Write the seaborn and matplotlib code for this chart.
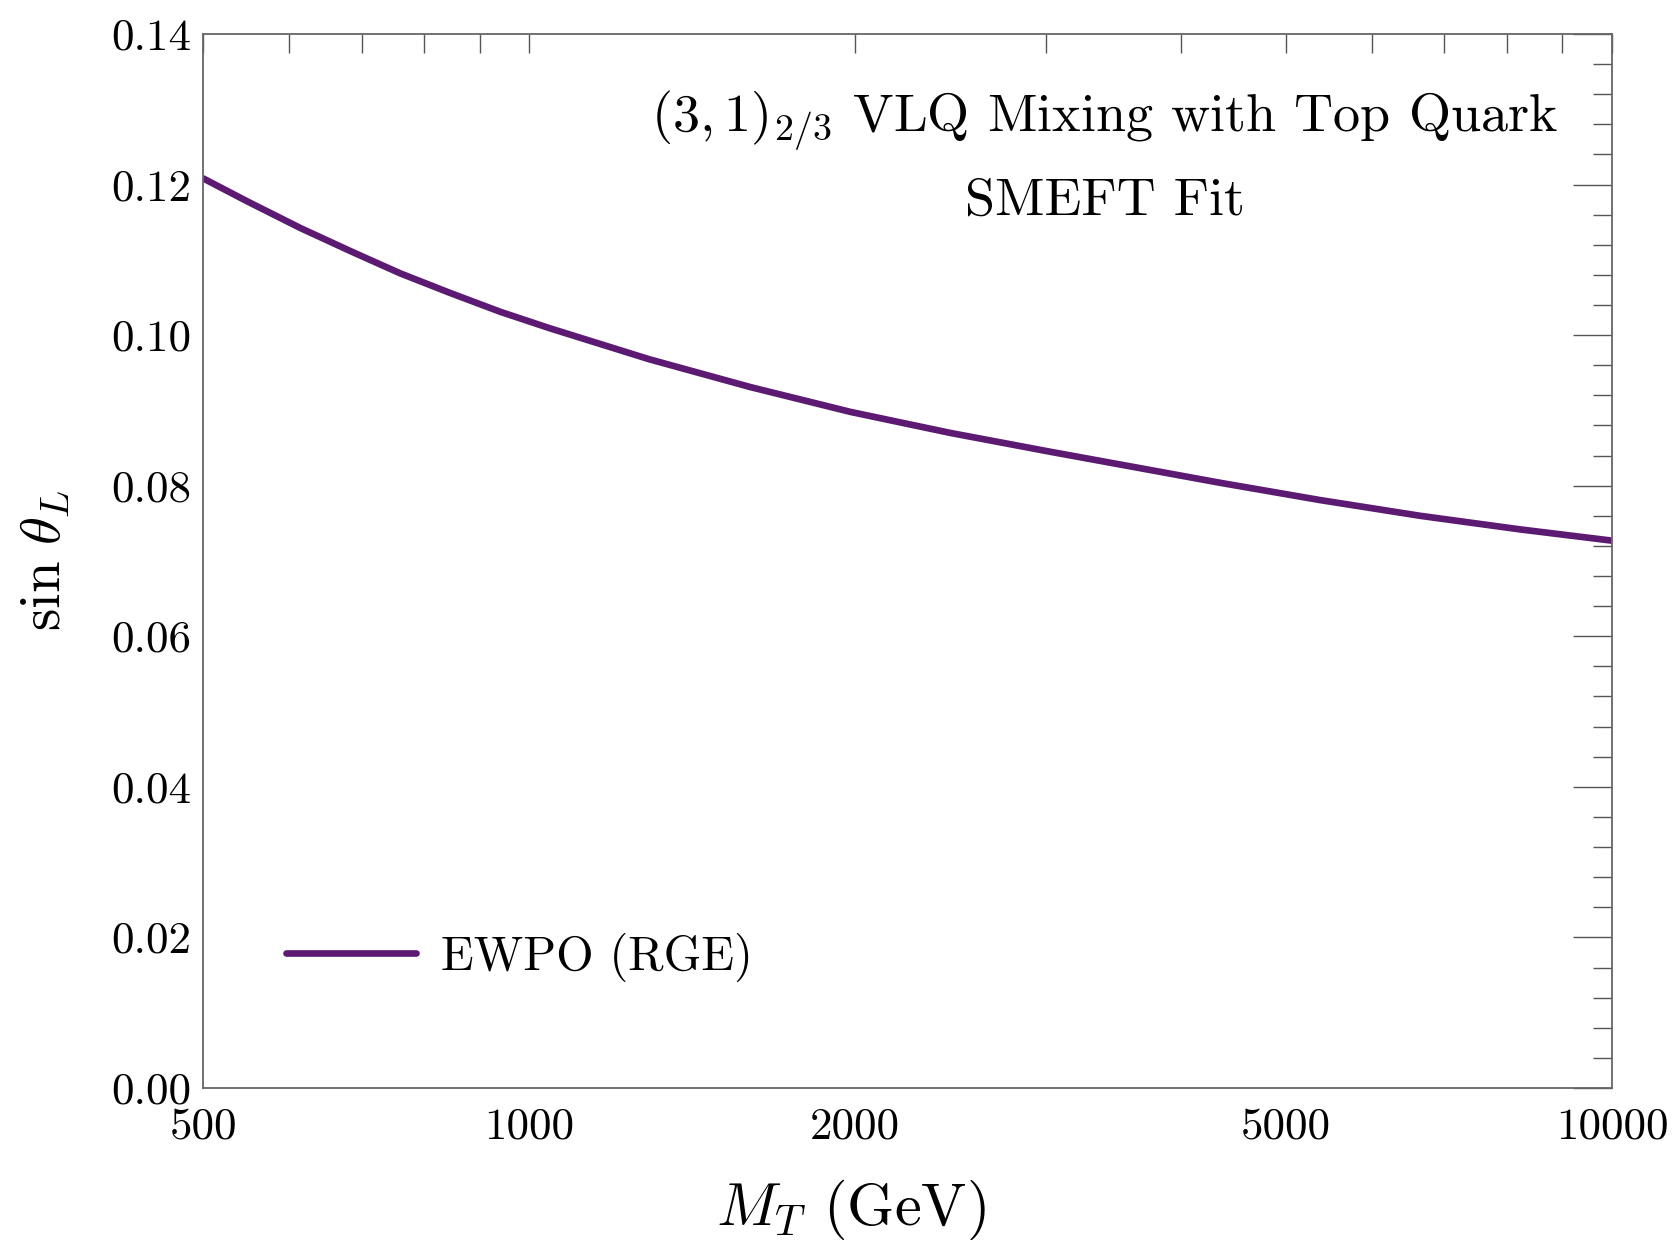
import numpy as np
import pandas as pd
import matplotlib
matplotlib.use("Agg")
import matplotlib.pyplot as plt
from matplotlib.ticker import FixedLocator, FixedFormatter, MultipleLocator
import seaborn as sns

# values
mass_gev = [500, 550, 615, 685, 760, 845, 940, 1045, 1290, 1600, 1980,
            2450, 3030, 3740, 4340, 5370, 6650, 8220, 10000]
sin_theta_l = [0.1208, 0.1177, 0.1142, 0.1111, 0.1082, 0.1056, 0.1031, 0.1009,
               0.0968, 0.0931, 0.0898, 0.0870, 0.0845, 0.0821, 0.0804, 0.0781,
               0.0760, 0.0742, 0.0727]
series_label = "EWPO (RGE)"

x_tick_vals = [500, 1000, 2000, 5000, 10000]
x_tick_labels = ["500", "1000", "2000", "5000", "10000"]
x_minor_vals = [600, 700, 800, 900, 3000, 4000, 6000, 7000, 8000, 9000]
x_decades = [1000, 10000]
y_tick_vals = [0.00, 0.02, 0.04, 0.06, 0.08, 0.10, 0.12, 0.14]

line_color = "#5d1a73"
tick_color = "#555555"

sns.set_style("white")
plt.rcParams["font.family"] = ["cmr10", "DejaVu Serif"]
plt.rcParams["mathtext.fontset"] = "cm"
plt.rcParams["axes.unicode_minus"] = False
plt.rcParams["axes.formatter.use_mathtext"] = True
plt.rcParams["text.color"] = "black"
plt.rcParams["axes.labelcolor"] = "black"
plt.rcParams["xtick.labelcolor"] = "black"
plt.rcParams["ytick.labelcolor"] = "black"

df = pd.DataFrame({"M": mass_gev, "s": sin_theta_l})

fig = plt.figure(figsize=(16.73, 12.4), dpi=100)
ax = fig.add_axes([0.1216, 0.1226, 0.8419, 0.8500])

sns.lineplot(data=df, x="M", y="s", ax=ax, color=line_color, lw=4.8,
             label=series_label, legend=True)

ax.set_xscale("log")
ax.set_xlim(500, 10000)
ax.set_ylim(0, 0.14)

# x ticks: labels at 500/1000/2000/5000/10000, long ticks only on the decades
ax.xaxis.set_major_locator(FixedLocator(x_tick_vals))
ax.xaxis.set_major_formatter(FixedFormatter(x_tick_labels))
ax.xaxis.set_minor_locator(FixedLocator(x_minor_vals))
ax.xaxis.set_minor_formatter(FixedFormatter([""] * len(x_minor_vals)))

ax.yaxis.set_major_locator(FixedLocator(y_tick_vals))
ax.yaxis.set_major_formatter(FixedFormatter([f"{v:.2f}" for v in y_tick_vals]))
ax.yaxis.set_minor_locator(MultipleLocator(0.004))

ax.tick_params(axis="both", which="both", direction="in", top=True, right=True,
               color=tick_color, width=1.0, labelcolor="black")
ax.tick_params(axis="x", which="both", length=14, labelsize=32.5, pad=14)
ax.tick_params(axis="y", which="major", length=28, labelsize=32.5, pad=9)
ax.tick_params(axis="y", which="minor", length=14)

for spine in ax.spines.values():
    spine.set_color("#666666")
    spine.set_linewidth(1.3)

ax.set_xlabel(r"$M_T$ (GeV)", fontsize=43.5, va="center")
ax.xaxis.set_label_coords(0.46, -0.1157)
ax.set_ylabel(r"$\sin\,\theta_L$", fontsize=41, va="center")
ax.yaxis.set_label_coords(-0.1125, 0.5)

ax.text(0.64, 0.918, r"$(3,1)_{2/3}$ VLQ Mixing with Top Quark",
        transform=ax.transAxes, ha="center", va="center", fontsize=39)
ax.text(0.64, 0.841, "SMEFT Fit", transform=ax.transAxes,
        ha="center", va="center", fontsize=39)

ax.legend(loc="center left", bbox_to_anchor=(0.0586, 0.124), frameon=False,
          fontsize=34.7, handlelength=2.7, handletextpad=0.52,
          borderpad=0, borderaxespad=0)

# make the decade ticks longer
for tick in ax.xaxis.get_major_ticks():
    if tick.get_loc() in x_decades:
        tick.tick1line.set_markersize(28)
        tick.tick2line.set_markersize(28)

fig.savefig("out.png", dpi=100, facecolor="white")
